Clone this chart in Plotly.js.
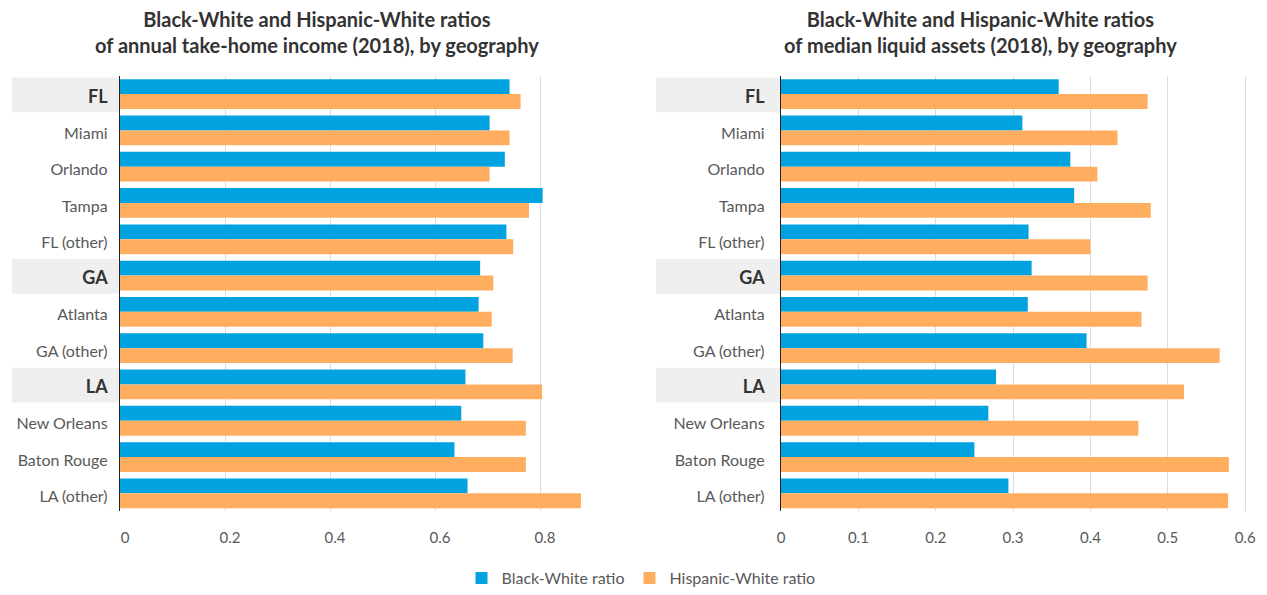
<!DOCTYPE html>
<html>
<head>
<meta charset="utf-8">
<script src="https://cdn.plot.ly/plotly-3.0.1.min.js"></script>
<style>html,body{margin:0;padding:0;background:#fff}#chart{width:1267px;height:595px}</style>
</head>
<body>
<div id="chart"></div>
<script>
// ---- data ----
const categories = ["FL","Miami","Orlando","Tampa","FL (other)","GA","Atlanta","GA (other)","LA","New Orleans","Baton Rouge","LA (other)"];
const states = ["FL","GA","LA"];
const seriesNames = ["Black-White ratio","Hispanic-White ratio"];

const incomeBlack    = [0.742,0.704,0.733,0.805,0.736,0.686,0.683,0.692,0.658,0.650,0.637,0.662];
const incomeHispanic = [0.763,0.742,0.704,0.779,0.749,0.711,0.708,0.748,0.804,0.773,0.773,0.878];

const assetsBlack    = [0.359,0.312,0.374,0.379,0.320,0.324,0.319,0.395,0.278,0.268,0.250,0.294];
const assetsHispanic = [0.474,0.435,0.409,0.478,0.400,0.474,0.466,0.567,0.521,0.462,0.579,0.578];

const leftTicks  = [0,0.2,0.4,0.6,0.8];
const rightTicks = [0,0.1,0.2,0.3,0.4,0.5,0.6];

const titles = [
  "Black-White and Hispanic-White ratios<br>of annual take-home income (2018), by geography",
  "Black-White and Hispanic-White ratios<br>of median liquid assets (2018), by geography"
];

// ---- styling ----
const W = 1267, H = 595;
const BLUE = "#00a3e0", ORANGE = "#ffae60";
const FONT = "Lato, 'Noto Sans', sans-serif";
const px = v => v / W;
const py = v => 1 - v / H;

const ticktext = categories.map(c => states.includes(c)
  ? "<b><span style='font-size:18px;fill:#333'>" + c + "</span></b>" : c);

function bar(x, name, color, xa, ya, show) {
  return {
    type: "bar", orientation: "h", x: x, y: categories, name: name,
    marker: {color: color}, xaxis: xa, yaxis: ya, showlegend: show,
    legendgroup: name, hoverinfo: "x+y"
  };
}

const data = [
  bar(incomeBlack, seriesNames[0], BLUE, "x", "y", true),
  bar(incomeHispanic, seriesNames[1], ORANGE, "x", "y", true),
  bar(assetsBlack, seriesNames[0], BLUE, "x2", "y2", false),
  bar(assetsHispanic, seriesNames[1], ORANGE, "x2", "y2", false)
];

const yDomain = [py(516.7), py(76.7)];
const yCommon = {
  type: "category", autorange: "reversed", domain: yDomain,
  tickmode: "array", tickvals: categories, ticktext: ticktext,
  showline: true, linecolor: "#222", linewidth: 1.3, showgrid: false,
  zeroline: false, ticks: "outside", tickcolor: "rgba(0,0,0,0)", ticklabelshift: -3,
  tickfont: {family: FONT, size: 16, color: "#595959"}, fixedrange: true
};
const xCommon = {
  showgrid: true, gridcolor: "#dcdcdc", gridwidth: 1, zeroline: false,
  showline: false, ticks: "outside", ticklen: 13, tickcolor: "rgba(0,0,0,0)",
  tickfont: {family: FONT, size: 15, color: "#595959"}, tickmode: "array", fixedrange: true
};

const shapes = [];
[[12, 119, "y"], [656, 780, "y2"]].forEach(([a, b, yr]) => {
  states.forEach(s => {
    const i = categories.indexOf(s);
    shapes.push({type: "rect", xref: "paper", yref: yr, x0: px(a), x1: px(b),
      y0: i - 0.46, y1: i + 0.5, fillcolor: "#efefef", line: {width: 0}, layer: "below"});
  });
});

const layout = {
  width: W, height: H, margin: {l: 0, r: 0, t: 0, b: 0},
  paper_bgcolor: "#fff", plot_bgcolor: "rgba(0,0,0,0)",
  font: {family: FONT, color: "#595959"},
  barmode: "group", bargap: 0.18, bargroupgap: 0,
  xaxis: Object.assign({}, xCommon, {domain: [px(120), px(592.5)], range: [0, 0.9],
    tickvals: leftTicks, ticktext: leftTicks.map(String), anchor: "y", ticklabelshift: 5}),
  yaxis: Object.assign({}, yCommon, {anchor: "x", ticklen: 8}),
  xaxis2: Object.assign({}, xCommon, {domain: [px(781), px(1249)], range: [0, 0.605],
    tickvals: rightTicks, ticktext: rightTicks.map(String), anchor: "y2"}),
  yaxis2: Object.assign({}, yCommon, {anchor: "x2", ticklen: 12}),
  shapes: shapes,
  annotations: [
    {text: titles[0], x: px(317), y: py(32), xref: "paper", yref: "paper",
     xanchor: "center", yanchor: "middle", showarrow: false,
     font: {family: FONT, size: 20, color: "#333", weight: 700}},
    {text: titles[1], x: px(980), y: py(32), xref: "paper", yref: "paper",
     xanchor: "center", yanchor: "middle", showarrow: false,
     font: {family: FONT, size: 20, color: "#333", weight: 700}}
  ],
  legend: {orientation: "h", x: px(641), xanchor: "center", y: py(584), yanchor: "middle",
    font: {family: FONT, size: 16, color: "#595959"}, traceorder: "normal",
    itemwidth: 30, bgcolor: "rgba(0,0,0,0)"},
  hovermode: "closest"
};

Plotly.newPlot("chart", data, layout, {displayModeBar: false, staticPlot: false});
</script>
</body>
</html>
